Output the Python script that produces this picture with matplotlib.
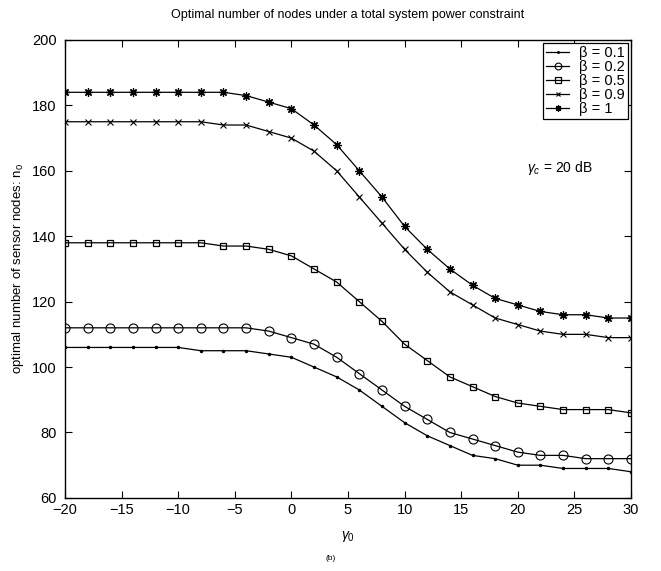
import numpy as np
import matplotlib.pyplot as plt

plt.rcParams['font.family'] = ['Liberation Sans', 'DejaVu Sans']
plt.rcParams['mathtext.fontset'] = 'custom'
plt.rcParams['mathtext.rm'] = 'Liberation Sans'
plt.rcParams['mathtext.it'] = 'Liberation Sans:italic'

# ----- Data -----
gamma0 = list(range(-20, 31, 2))

n_b01 = [106, 106, 106, 106, 106, 106, 105, 105, 105, 104, 103, 100, 97,
         93, 88, 83, 79, 76, 73, 72, 70, 70, 69, 69, 69, 68]
n_b02 = [112, 112, 112, 112, 112, 112, 112, 112, 112, 111, 109, 107, 103,
         98, 93, 88, 84, 80, 78, 76, 74, 73, 73, 72, 72, 72]
n_b05 = [138, 138, 138, 138, 138, 138, 138, 137, 137, 136, 134, 130, 126,
         120, 114, 107, 102, 97, 94, 91, 89, 88, 87, 87, 87, 86]
n_b09 = [175, 175, 175, 175, 175, 175, 175, 174, 174, 172, 170, 166, 160,
         152, 144, 136, 129, 123, 119, 115, 113, 111, 110, 110, 109, 109]
n_b1 = [184, 184, 184, 184, 184, 184, 184, 184, 183, 181, 179, 174, 168,
        160, 152, 143, 136, 130, 125, 121, 119, 117, 116, 116, 115, 115]

labels = ["β = 0.1", "β = 0.2", "β = 0.5", "β = 0.9", "β = 1"]

fig = plt.figure(figsize=(6.61, 5.71), dpi=100)
ax = fig.add_axes([0.0983, 0.128, 0.8563, 0.802])

style = dict(color="black", linewidth=0.9)
ax.plot(gamma0, n_b01, marker=".", markersize=3, label=labels[0], **style)
ax.plot(gamma0, n_b02, marker="o", markersize=6.5, fillstyle="none",
        markeredgewidth=0.8, label=labels[1], **style)
ax.plot(gamma0, n_b05, marker="s", markersize=5, fillstyle="none",
        markeredgewidth=0.9, label=labels[2], **style)
ax.plot(gamma0, n_b09, marker="x", markersize=4, markeredgewidth=0.8,
        label=labels[3], **style)
ax.plot(gamma0, n_b1, marker=(8, 2, 0), markersize=6, markeredgewidth=0.9,
        label=labels[4], **style)

ax.set_xlim(-20, 30)
ax.set_ylim(60, 200)
ax.set_xticks(range(-20, 31, 5))
ax.set_yticks(range(60, 201, 20))
ax.set_xticklabels([str(t).replace("-", "\u2212") for t in range(-20, 31, 5)])
ax.tick_params(direction="in", top=True, right=True, labelsize=10.5, length=5,
               width=0.8, pad=4)
ax.tick_params(axis="y", pad=6)
for s in ax.spines.values():
    s.set_linewidth(1.0)

ax.set_xlabel(r"$\gamma_0$", fontsize=10, labelpad=8)
ax.set_ylabel(r"optimal number of sensor nodes: n$_0$", fontsize=9.5,
              labelpad=4)
ax.set_title("Optimal number of nodes under a total system power constraint",
             fontsize=9, pad=16)
ax.text(20.8, 160.8, r"$\gamma_c$ = 20 dB", fontsize=10, va="center")
fig.text(0.5, 0.02, "(b)", fontsize=6, ha="center")

leg = ax.legend(loc="upper right", fontsize=10.5, fancybox=False, framealpha=1,
                edgecolor="black", handlelength=1.6, borderpad=0.2,
                labelspacing=0.0, borderaxespad=0.2, handletextpad=0.7,
                markerscale=0.75)
leg.get_frame().set_linewidth(0.9)

fig.savefig("out.png", dpi=100)
